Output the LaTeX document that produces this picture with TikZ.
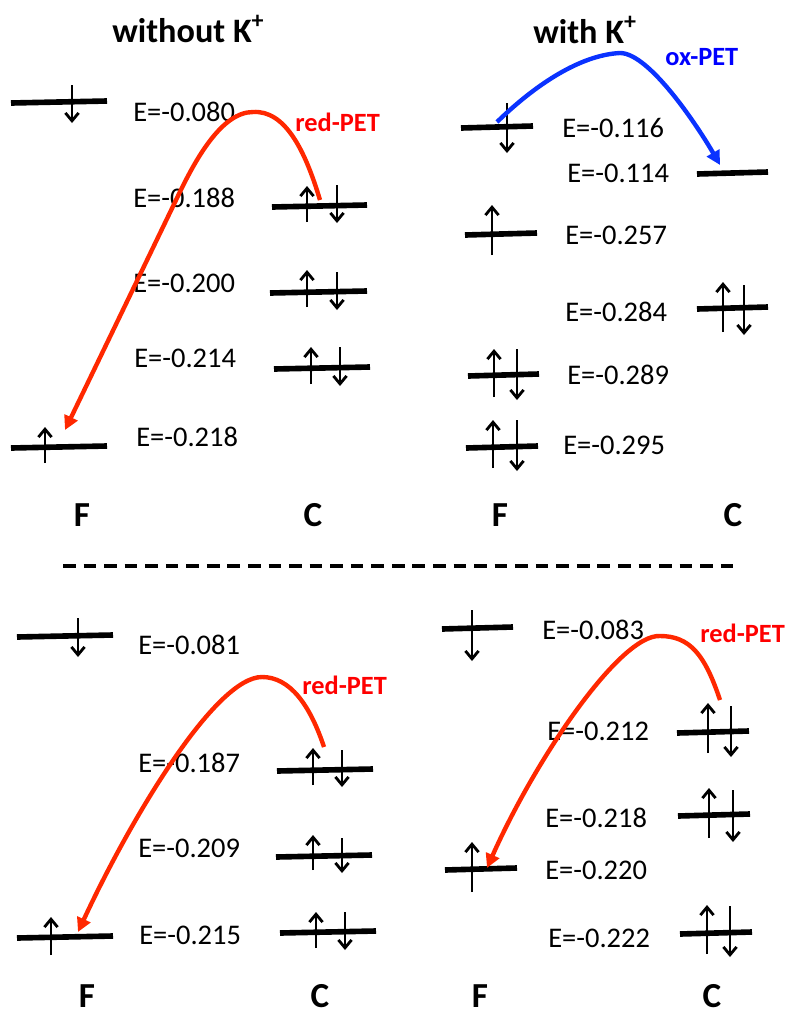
\documentclass[tikz,border=0pt]{standalone}
\usepackage{fontspec}
\setmainfont{Carlito}
\usetikzlibrary{arrows.meta}
\definecolor{curvered}{RGB}{255,40,0}
\definecolor{curveblue}{RGB}{10,50,255}
\tikzset{
  lvl/.style={line width=3.2pt, black},
  spin/.style={line width=1.6pt, black, -{Straight Barb[length=4.5pt,width=7.5pt,line width=1.6pt]}},
  etxt/.style={anchor=west, inner sep=0pt, font=\fontsize{16.2}{19}\selectfont},
  lab/.style={inner sep=0pt, font=\fontsize{20}{24}\selectfont\bfseries},
  ttl/.style={anchor=west, inner sep=0pt, font=\fontsize{19.5}{23}\selectfont\bfseries},
  pet/.style={anchor=west, inner sep=0pt, font=\fontsize{15}{18}\selectfont\bfseries},
  redpet/.style={pet, text=red},
  oxpet/.style={pet, text=blue},
  redc/.style={line width=2.5pt, curvered, -{Triangle[length=8pt,width=8pt]}},
  bluec/.style={line width=2.5pt, curveblue, -{Triangle[length=8pt,width=8pt]}},
  sep/.style={line width=1.9pt, black, dash pattern=on 7.2pt off 4.5pt}
}
\newcommand\lv[3]{\draw[lvl] (#1,#3+1) -- (#2,#3-1);}
\newcommand\spup[3]{\draw[spin] (#1,#3) -- (#1,#2);}
\newcommand\spdn[3]{\draw[spin] (#1,#2) -- (#1,#3);}
\begin{document}
\begin{tikzpicture}[x=0.02cm, y=-0.02cm]
\useasboundingbox (0,0) rectangle (785,1015);

% ---------- top left: without K+
\node[ttl] (t1) at (112,29) {without K\textsuperscript{+}};
\lv{11}{107}{102} \spdn{72}{85}{123}
\node[etxt] (e1) at (133,112) {E=-0.080};
\lv{272}{367}{206} \spup{307}{186}{222} \spdn{337}{185}{223}
\node[etxt] (e2) at (133,198) {E=-0.188};
\lv{270}{367}{292} \spup{307}{270}{307} \spdn{337}{272}{310}
\node[etxt] (e3) at (133,283) {E=-0.200};
\lv{274}{370}{368} \spup{311}{347}{384} \spdn{340}{347}{386}
\node[etxt] (e4) at (134,358) {E=-0.214};
\lv{11}{107}{447} \spup{45}{427}{463}
\node[etxt] (e5) at (136,437) {E=-0.218};
\node[lab] (f1) at (82,515) {F};
\node[lab] (c1) at (313,515) {C};
\node[redpet] (r1) at (295,122) {red-PET};
\coordinate (a1s) at (320,200);
\coordinate (a1p) at (253,112);
\coordinate (a1m) at (177,198);
\coordinate (a1e) at (65,430);
\draw[redc] (a1s) .. controls (305,150) and (285,110) .. (a1p)
  .. controls (222,112) and (196,158) .. (a1m) -- (a1e);

% ---------- top right: with K+
\node[ttl] (t2) at (533,30) {with K\textsuperscript{+}};
\lv{461}{533}{127} \spdn{507}{103}{153}
\node[etxt] (e6) at (562,128) {E=-0.116};
\lv{697}{768}{173}
\node[etxt] (e7) at (567,173) {E=-0.114};
\lv{465}{537}{234} \spup{492}{205}{255}
\node[etxt] (e8) at (565,235) {E=-0.257};
\lv{697}{768}{308} \spup{723}{282}{332} \spdn{744}{285}{335}
\node[etxt] (e9) at (565,312) {E=-0.284};
\lv{468}{539}{375} \spup{494}{349}{397} \spdn{517}{349}{400}
\node[etxt] (e10) at (567,375) {E=-0.289};
\lv{466}{538}{447} \spup{493}{420}{468} \spdn{517}{420}{471}
\node[etxt] (e11) at (563,445) {E=-0.295};
\node[lab] (f2) at (500,515) {F};
\node[lab] (c2) at (733,515) {C};
\node[oxpet] (o1) at (665,57) {ox-PET};
\coordinate (b1s) at (497,122);
\coordinate (b1p) at (620,53);
\coordinate (b1e) at (720,165);
\draw[bluec] (b1s) .. controls (535,85) and (580,55) .. (b1p)
  .. controls (650,53) and (700,130) .. (b1e);

% ---------- separator
\coordinate (d1) at (63,566);
\coordinate (d2) at (735,566);
\draw[sep] (d1) -- (d2);

% ---------- bottom left
\lv{17}{113}{636} \spdn{78}{618}{657}
\node[etxt] (e12) at (138,645) {E=-0.081};
\lv{277}{373}{770} \spup{313}{748}{785} \spdn{342}{750}{787}
\node[etxt] (e13) at (138,763) {E=-0.187};
\lv{276}{372}{856} \spup{313}{835}{870} \spdn{342}{838}{873}
\node[etxt] (e14) at (138,848) {E=-0.209};
\lv{280}{376}{932} \spup{316}{912}{948} \spdn{345}{912}{950}
\node[etxt] (e15) at (139,935) {E=-0.215};
\lv{17}{113}{937} \spup{51}{917}{955}
\node[lab] (f3) at (87,996) {F};
\node[lab] (c3) at (320,996) {C};
\node[redpet] (r2) at (302,685) {red-PET};
\coordinate (a2s) at (324,747);
\coordinate (a2p) at (262,677);
\coordinate (a2e) at (78,932);
\draw[redc] (a2s) .. controls (310,705) and (290,677) .. (a2p)
  .. controls (215,677) and (130,820) .. (a2e);

% ---------- bottom right
\lv{442}{513}{628} \spdn{472}{610}{661}
\node[etxt] (e16) at (542,630) {E=-0.083};
\lv{677}{749}{732} \spup{708}{703}{753} \spdn{731}{706}{757}
\node[etxt] (e17) at (547,731) {E=-0.212};
\lv{678}{750}{815} \spup{709}{788}{838} \spdn{733}{790}{842}
\node[etxt] (e18) at (545,818) {E=-0.218};
\lv{445}{517}{869} \spup{472}{842}{892}
\node[etxt] (e19) at (545,870) {E=-0.220};
\lv{680}{752}{933} \spup{707}{905}{954} \spdn{730}{906}{957}
\node[etxt] (e20) at (548,938) {E=-0.222};
\node[lab] (f4) at (480,996) {F};
\node[lab] (c4) at (712,996) {C};
\node[redpet] (r3) at (700,633) {red-PET};
\coordinate (a3s) at (720,700);
\coordinate (a3p) at (660,636);
\coordinate (a3e) at (487,868);
\draw[redc] (a3s) .. controls (705,655) and (690,636) .. (a3p)
  .. controls (620,634) and (535,760) .. (a3e);
\end{tikzpicture}
\end{document}
